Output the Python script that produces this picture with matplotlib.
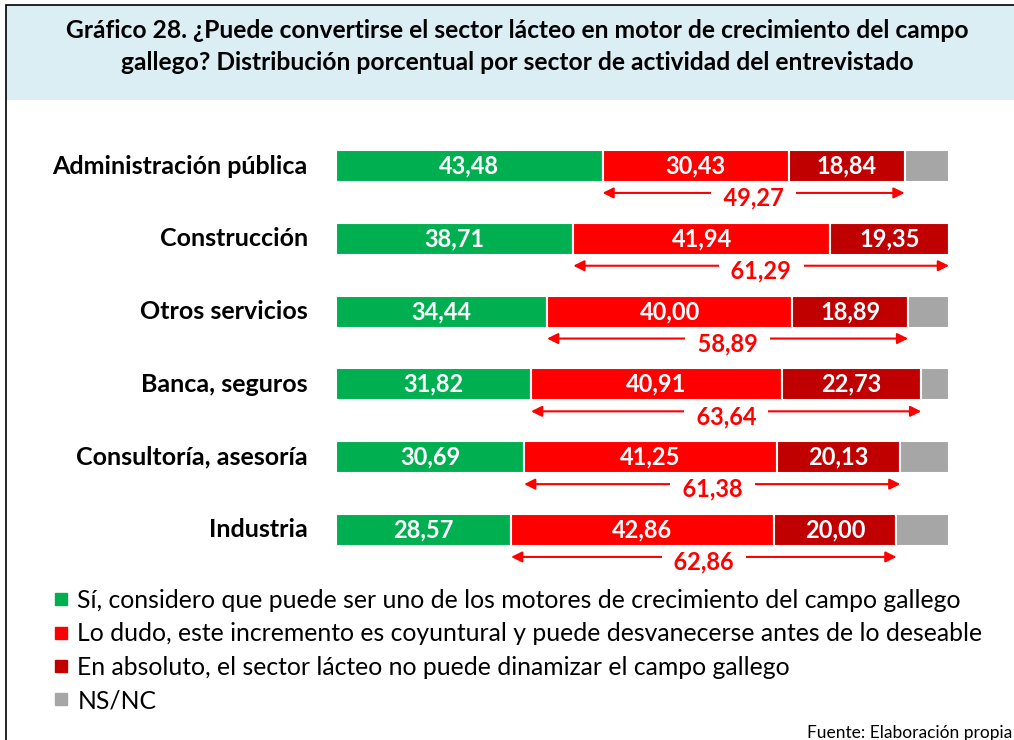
import matplotlib.pyplot as plt
from matplotlib.patches import Rectangle
from matplotlib.lines import Line2D

plt.rcParams['font.family'] = ['Lato', 'DejaVu Sans']

categories = ['Administración pública', 'Construcción', 'Otros servicios',
              'Banca, seguros', 'Consultoría, asesoría', 'Industria']
si = [43.48, 38.71, 34.44, 31.82, 30.69, 28.57]
dudo = [30.43, 41.94, 40.00, 40.91, 41.25, 42.86]
absoluto = [18.84, 19.35, 18.89, 22.73, 20.13, 20.00]
nsnc = [7.25, 0.0, 6.67, 4.54, 7.93, 8.57]
negativos = [49.27, 61.29, 58.89, 63.64, 61.38, 62.86]

series_labels = ['Sí, considero que puede ser uno de los motores de crecimiento del campo gallego',
                 'Lo dudo, este incremento es coyuntural y puede desvanecerse antes de lo deseable',
                 'En absoluto, el sector lácteo no puede dinamizar el campo gallego',
                 'NS/NC']
colors = ['#00B050', '#FF0000', '#C00000', '#A6A6A6']

W, H = 1014, 740
fig = plt.figure(figsize=(W / 100, H / 100), dpi=100)

# frame and title box
fig.patches.append(Rectangle((6 / W, 1 - 100 / H), 1.2, 95 / H, transform=fig.transFigure,
                             facecolor='#DBEEF4', edgecolor='none', zorder=0))
fig.patches.append(Rectangle((6 / W, -0.1), 1.2, 1.1 - 5 / H, transform=fig.transFigure,
                             fill=False, edgecolor='black', lw=1.2, zorder=1))
fig.text(517 / W, 1 - 30 / H,
         'Gráfico 28. ¿Puede convertirse el sector lácteo en motor de crecimiento del campo',
         ha='center', va='center', fontsize=17.7, fontweight='bold')
fig.text(517 / W, 1 - 62 / H,
         'gallego? Distribución porcentual por sector de actividad del entrevistado',
         ha='center', va='center', fontsize=17.7, fontweight='bold')

ax = fig.add_axes([336 / W, 1 - 566.4 / H, 613 / W, (566.4 - 129.6) / H])
ax.set_xlim(0, 100)
ax.set_ylim(5.5, -0.5)
ax.axis('off')

y = list(range(len(categories)))
h = 0.44
left = [0] * len(categories)
for vals, c in zip([si, dudo, absoluto, nsnc], colors):
    ax.barh(y, vals, left=left, height=h, color=c, edgecolor='white', linewidth=1.5)
    if c != '#A6A6A6':
        for i, v in enumerate(vals):
            ax.text(left[i] + v / 2, i, f'{v:.2f}'.replace('.', ','), ha='center', va='center',
                    color='white', fontsize=17, fontweight='bold')
    left = [l + v for l, v in zip(left, vals)]

for i in y:
    x0 = si[i]
    x1 = si[i] + dudo[i] + absoluto[i]
    ya = i + 0.37
    ax.annotate('', xy=(x0, ya), xytext=(x1, ya),
                arrowprops=dict(arrowstyle='<|-|>', color='#FF0000', lw=1.5,
                                mutation_scale=16, shrinkA=0, shrinkB=0))
    ax.text((x0 + x1) / 2, ya + 0.07, '  ' + f'{negativos[i]:.2f}'.replace('.', ',') + '  ',
            ha='center', va='center', color='#FF0000', fontsize=17, fontweight='bold',
            bbox=dict(facecolor='white', edgecolor='none', pad=0.5))
    ax.text(-4.6, i, categories[i], ha='right', va='center', fontsize=18, fontweight='bold')

handles = [Line2D([], [], marker='s', linestyle='none', markersize=8, color=c) for c in colors]
fig.legend(handles, series_labels, loc='upper left', bbox_to_anchor=(54 / W, 1 - 589 / H),
           frameon=False, fontsize=17.8, handlelength=0.6, handletextpad=0.35,
           labelspacing=0.42, borderaxespad=0, borderpad=0)

fig.text(1012 / W, 1 - 733 / H, 'Fuente: Elaboración propia', ha='right', va='center',
         fontsize=12.5)

fig.savefig('out.png', dpi=100)
